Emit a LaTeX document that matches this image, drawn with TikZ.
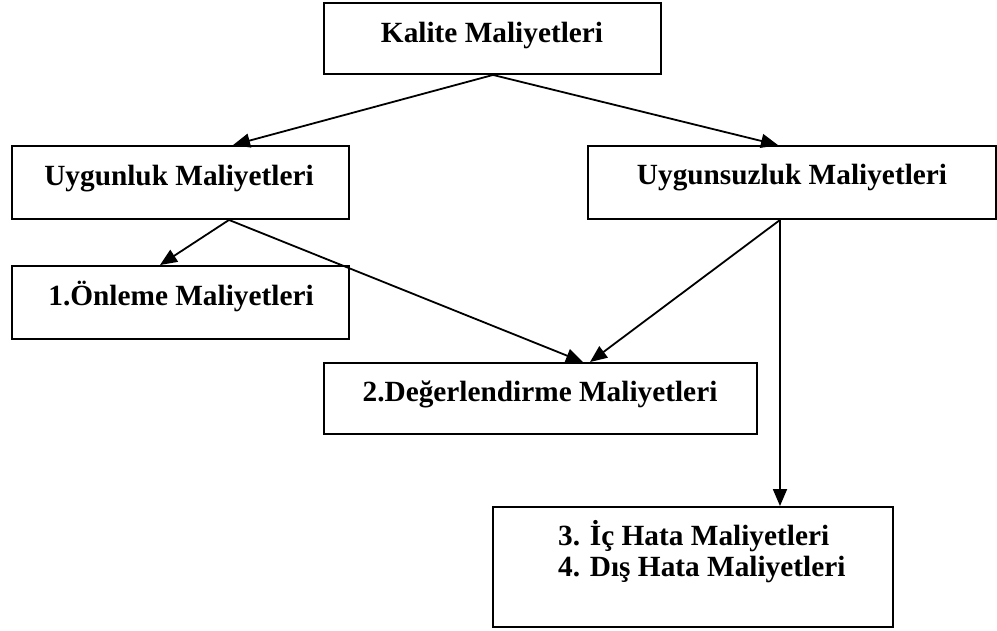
\documentclass[tikz,border=0pt]{standalone}
\usepackage{fontspec}
\setmainfont{Liberation Serif}
\usetikzlibrary{arrows.meta}
\begin{document}
\begin{tikzpicture}[x=1pt,y=1pt,
  box/.style={draw, line width=1.9pt, inner sep=0pt, rectangle},
  lbl/.style={inner sep=0pt, font=\fontsize{29.3}{31}\selectfont\bfseries, anchor=base},
  lblw/.style={lbl, anchor=base west},
  link/.style={line width=1.8pt, -{Triangle[length=17pt,width=14pt]}}]
\useasboundingbox (0,0) rectangle (997,-630);

% boxes
\node[box, minimum width=337pt, minimum height=71pt] (kal) at (492.5,-38.5) {};
\node[box, minimum width=337pt, minimum height=73pt] (ugn) at (180.5,-182.5) {};
\node[box, minimum width=408pt, minimum height=73pt] (ugs) at (792,-182.5) {};
\node[box, minimum width=337pt, minimum height=73pt] (onl) at (180.5,-302.5) {};
\node[box, minimum width=433pt, minimum height=71pt] (deg) at (540.5,-398.5) {};
\node[box, minimum width=400pt, minimum height=120pt] (hat) at (693,-567) {};

% texts
\node[lbl] (tkal) at (492,-42) {Kalite Maliyetleri};
\node[lbl] (tugn) at (179,-185) {Uygunluk Maliyetleri};
\node[lbl] (tugs) at (792,-184) {Uygunsuzluk Maliyetleri};
\node[lbl] (tonl) at (181,-305) {1.Önleme Maliyetleri};
\node[lbl] (tdeg) at (540,-401) {2.Değerlendirme Maliyetleri};
\node[lblw] (tic) at (558,-545) {3. İç Hata Maliyetleri};
\node[lblw] (tdis) at (558,-576) {4. Dış Hata Maliyetleri};

% connectors
\draw[link] ([xshift=0.5pt]kal.south) -- ([xshift=52.5pt]ugn.north);
\draw[link] ([xshift=0.5pt]kal.south) -- ([xshift=-14pt]ugs.north);
\draw[link] ([xshift=48.5pt]ugn.south) -- ([xshift=-20.5pt]onl.north);
\draw[link] ([xshift=48.5pt]ugn.south) -- ([xshift=42.5pt]deg.north);
\draw[link] ([xshift=-12pt]ugs.south) -- ([xshift=49.5pt]deg.north);
\draw[link] ([xshift=-12pt]ugs.south) -- ([xshift=-12pt]ugs.south |- hat.north);
\end{tikzpicture}
\end{document}
